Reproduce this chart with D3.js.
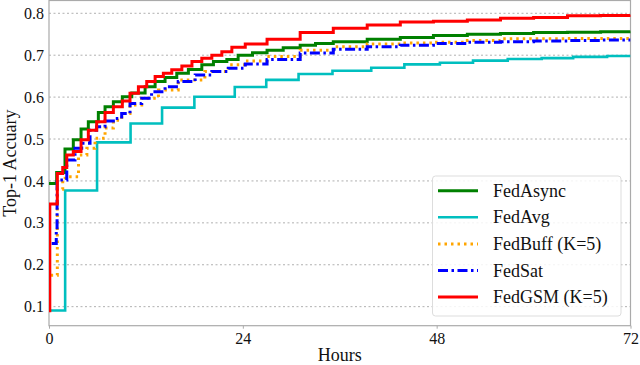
<!DOCTYPE html>
<html lang="en">
  <head>
    <meta charset="UTF-8" />
    <title>Top-1 Accuracy vs Hours</title>
    <script src="https://d3js.org/d3.v7.min.js"></script>
    <style>
      body {
        margin: 0;
        background: #fff;
      }
      svg {
        display: block;
      }
      svg text {
        font-family: 'Times New Roman', Times, 'Liberation Serif', serif;
      }
      .tick-label {
        font-size: 16px;
        fill: #111;
      }
      .axis-label {
        font-size: 18px;
        fill: #111;
      }
      .legend-text {
        font-size: 18px;
        fill: #111;
      }
    </style>
  </head>
  <body>
    <svg width="640" height="365"></svg>

    <script>
      // Hours / accuracy values (step curves)
      const fedAsyncT = [0, 0.95, 1.98, 3.01, 3.97, 4.87, 6.11, 6.94, 7.97, 9.08, 10.25, 11.9, 13.14, 14.37, 15.82, 17.26, 18.92, 20.36, 22.02, 23.42, 25.2, 27.0, 29.0, 31.1, 33.0, 35.2, 39.4, 43.5, 47.6, 51.8, 55.9, 60.0, 64.2, 68.3, 72];
      const fedAsyncV = [0.394, 0.42, 0.476, 0.498, 0.524, 0.541, 0.563, 0.577, 0.589, 0.601, 0.61, 0.625, 0.637, 0.647, 0.657, 0.666, 0.677, 0.685, 0.69, 0.7, 0.706, 0.712, 0.718, 0.724, 0.728, 0.732, 0.738, 0.742, 0.747, 0.75, 0.752, 0.754, 0.755, 0.756, 0.757];

      const fedAvgT = [0, 2.0, 5.95, 10.1, 14.0, 18.0, 23.0, 26.9, 30.9, 35.1, 39.9, 44.0, 48.4, 52.5, 56.8, 61.0, 64.9, 69.1, 72];
      const fedAvgV = [0.091, 0.377, 0.492, 0.537, 0.575, 0.601, 0.624, 0.641, 0.655, 0.663, 0.67, 0.678, 0.682, 0.687, 0.691, 0.693, 0.696, 0.698, 0.698];

      const fedBuffT = [0.2, 1.03, 1.7, 2.0, 3.65, 4.69, 5.7, 6.94, 7.97, 9.0, 10.03, 11.48, 13.55, 16.0, 19.3, 22.2, 24.3, 27.0, 31.1, 35.2, 39.4, 43.5, 47.6, 51.8, 55.9, 60.0, 64.2, 68.3, 72];
      const fedBuffV = [0.175, 0.38, 0.4, 0.41, 0.462, 0.478, 0.502, 0.526, 0.545, 0.561, 0.581, 0.597, 0.617, 0.641, 0.661, 0.677, 0.686, 0.697, 0.712, 0.72, 0.727, 0.729, 0.731, 0.735, 0.739, 0.739, 0.74, 0.74, 0.74];

      const fedSatT = [0.33, 0.9, 1.0, 2.2, 3.22, 4.05, 5.08, 5.9, 6.94, 7.97, 9.0, 10.03, 11.48, 12.7, 14.37, 16.0, 18.1, 20.16, 22.2, 24.3, 27.0, 31.1, 35.2, 39.4, 43.5, 47.6, 51.8, 55.9, 60.0, 64.2, 68.3, 72];
      const fedSatV = [0.251, 0.283, 0.402, 0.45, 0.478, 0.49, 0.521, 0.529, 0.543, 0.549, 0.561, 0.585, 0.597, 0.613, 0.625, 0.637, 0.653, 0.661, 0.669, 0.679, 0.69, 0.705, 0.714, 0.72, 0.724, 0.728, 0.731, 0.732, 0.734, 0.735, 0.736, 0.736];

      const fedGsmT = [0, 0.1, 1.03, 1.7, 2.2, 3.01, 3.97, 4.87, 5.9, 6.94, 7.97, 9.08, 10.03, 11.07, 12.1, 13.14, 14.16, 15.2, 16.45, 17.7, 18.92, 20.16, 21.4, 22.64, 24.3, 27.0, 31.1, 35.2, 39.4, 43.5, 47.6, 51.8, 55.9, 60.0, 64.2, 68.3, 72];
      const fedGsmV = [0.09, 0.345, 0.418, 0.432, 0.462, 0.47, 0.498, 0.521, 0.541, 0.563, 0.577, 0.591, 0.609, 0.625, 0.637, 0.649, 0.657, 0.665, 0.674, 0.685, 0.693, 0.7, 0.708, 0.719, 0.727, 0.738, 0.754, 0.764, 0.772, 0.779, 0.781, 0.784, 0.788, 0.79, 0.794, 0.795, 0.796];

      const seriesNames = ['FedAsync', 'FedAvg', 'FedBuff (K=5)', 'FedSat', 'FedGSM (K=5)'];
      const xTicks = [0, 24, 48, 72];
      const yTicks = [0.1, 0.2, 0.3, 0.4, 0.5, 0.6, 0.7, 0.8];

      const styles = [
        { color: '#008000', width: 3, dash: null },
        { color: '#00bfbf', width: 2.6, dash: null },
        { color: '#ffa500', width: 3, dash: '2.5,4' },
        { color: '#0000ff', width: 3, dash: '10,3.5,2.5,3.5' },
        { color: '#ff0000', width: 3, dash: null },
      ];

      const rawT = [fedAsyncT, fedAvgT, fedBuffT, fedSatT, fedGsmT];
      const rawV = [fedAsyncV, fedAvgV, fedBuffV, fedSatV, fedGsmV];
      const series = seriesNames.map((name, i) => ({
        name,
        style: styles[i],
        points: rawT[i].map((t, j) => ({ t, v: rawV[i][j] })),
      }));

      const svg = d3.select('svg');
      const plotLeft = 49,
        plotRight = 630.5,
        plotTop = 0.5,
        plotBottom = 325.7;

      const x = d3.scaleLinear().domain([0, 72]).range([plotLeft, plotRight]);
      const y = d3.scaleLinear().domain([0.0546, 0.8305]).range([plotBottom, plotTop]);

      svg
        .append('defs')
        .append('clipPath')
        .attr('id', 'plot-clip')
        .append('rect')
        .attr('x', plotLeft)
        .attr('y', plotTop)
        .attr('width', plotRight - plotLeft)
        .attr('height', plotBottom - plotTop);

      // Grid
      svg
        .append('g')
        .selectAll('line')
        .data(yTicks)
        .enter()
        .append('line')
        .attr('x1', plotLeft)
        .attr('x2', plotRight)
        .attr('y1', (d) => y(d))
        .attr('y2', (d) => y(d))
        .attr('stroke', '#b0b0b0')
        .attr('stroke-width', 1)
        .attr('stroke-dasharray', '2,2.5');

      // Axes
      const xAxis = svg
        .append('g')
        .attr('transform', `translate(0,${plotBottom})`)
        .call(d3.axisBottom(x).tickValues(xTicks).tickSize(3).tickPadding(4))
        .attr('font-family', null)
        .attr('font-size', null);
      xAxis.select('.domain').remove();
      xAxis.selectAll('line').attr('stroke', '#aaa');
      xAxis.selectAll('text').attr('class', 'tick-label');

      const yAxis = svg
        .append('g')
        .attr('transform', `translate(${plotLeft},0)`)
        .call(d3.axisLeft(y).tickValues(yTicks).tickSize(0).tickPadding(5).tickFormat(d3.format('.1f')))
        .attr('font-family', null)
        .attr('font-size', null);
      yAxis.select('.domain').remove();
      yAxis.selectAll('text').attr('class', 'tick-label');

      // Frame
      svg
        .append('rect')
        .attr('x', plotLeft)
        .attr('y', plotTop)
        .attr('width', plotRight - plotLeft)
        .attr('height', plotBottom - plotTop)
        .attr('fill', 'none')
        .attr('stroke', '#aaa')
        .attr('stroke-width', 1.2);

      // Lines
      const line = d3
        .line()
        .x((d) => x(d.t))
        .y((d) => y(d.v))
        .curve(d3.curveStepAfter);

      svg
        .append('g')
        .attr('clip-path', 'url(#plot-clip)')
        .selectAll('path')
        .data(series)
        .enter()
        .append('path')
        .attr('d', (d) => line(d.points))
        .attr('fill', 'none')
        .attr('stroke', (d) => d.style.color)
        .attr('stroke-width', (d) => d.style.width)
        .attr('stroke-dasharray', (d) => d.style.dash)
        .attr('stroke-linejoin', 'miter');

      // Axis labels
      svg
        .append('text')
        .attr('class', 'axis-label')
        .attr('x', (plotLeft + plotRight) / 2)
        .attr('y', 361)
        .attr('text-anchor', 'middle')
        .text('Hours');

      svg
        .append('text')
        .attr('class', 'axis-label')
        .attr('transform', 'rotate(-90)')
        .attr('x', -(plotTop + plotBottom) / 2)
        .attr('y', 16)
        .attr('text-anchor', 'middle')
        .text('Top-1 Accuary');

      // Legend
      const legend = svg.append('g');
      legend
        .append('rect')
        .attr('x', 432.5)
        .attr('y', 176)
        .attr('width', 188.5)
        .attr('height', 140)
        .attr('rx', 3)
        .attr('fill', 'white')
        .attr('fill-opacity', 0.85)
        .attr('stroke', '#ddd');

      const rows = legend
        .selectAll('g.row')
        .data(series)
        .enter()
        .append('g')
        .attr('class', 'row')
        .attr('transform', (d, i) => `translate(0,${190.7 + i * 26.6})`);

      rows
        .append('line')
        .attr('x1', 438)
        .attr('x2', 478)
        .attr('stroke', (d) => d.style.color)
        .attr('stroke-width', (d) => d.style.width)
        .attr('stroke-dasharray', (d) => d.style.dash);

      rows
        .append('text')
        .attr('class', 'legend-text')
        .attr('x', 493)
        .attr('y', 6)
        .text((d) => d.name);
    </script>
  </body>
</html>
